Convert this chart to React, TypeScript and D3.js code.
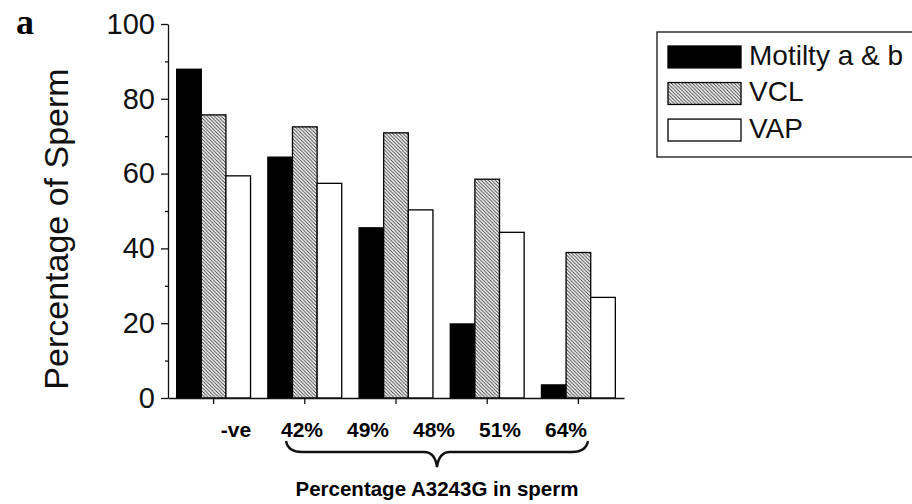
import { useEffect, useRef } from "react";
import * as d3 from "d3";

// bar groups (5 groups in the figure)
const groups = ["g1", "g2", "g3", "g4", "g5"];
const seriesNames = ["Motilty a & b", "VCL", "VAP"];
const motility = [87.9, 64.4, 45.5, 19.8, 3.5];
const vcl = [75.7, 72.5, 70.9, 58.5, 38.9];
const vap = [59.4, 57.4, 50.3, 44.3, 26.9];
// labels printed under the axis (as in the original figure)
const xLabels = ["-ve", "42%", "49%", "48%", "51%", "64%"];
const yTicks = [0, 20, 40, 60, 80, 100];
const yMinorTicks = [10, 30, 50, 70, 90];

const FONT = "'Liberation Sans', Arial, sans-serif";

export default function App() {
  const ref = useRef<SVGSVGElement>(null);

  useEffect(() => {
    const svg = d3.select(ref.current);
    svg.selectAll("*").remove();

    const left = 168;
    const right = 624;
    const top = 24;
    const bottom = 398;

    // hatch pattern
    const defs = svg.append("defs");
    const pat = defs
      .append("pattern")
      .attr("id", "hatch")
      .attr("patternUnits", "userSpaceOnUse")
      .attr("width", 3.5)
      .attr("height", 3.5);
    pat.append("rect").attr("width", 3.5).attr("height", 3.5).attr("fill", "#fff");
    pat
      .append("path")
      .attr("d", "M0,0 L3.5,3.5 M-1,2.5 L1,4.5 M2.5,-1 L4.5,1")
      .attr("stroke", "#333")
      .attr("stroke-width", 0.9);

    const fills = ["#000", "url(#hatch)", "#fff"];
    const values = [motility, vcl, vap];

    const x = d3
      .scaleBand()
      .domain(groups)
      .range([left, right])
      .paddingInner(0.19)
      .paddingOuter(0.095);

    const xs = d3
      .scaleBand()
      .domain(seriesNames)
      .range([0, x.bandwidth()]);

    const y = d3.scaleLinear().domain([0, 100]).range([bottom, top]);

    // bars
    seriesNames.forEach((s, si) => {
      svg
        .append("g")
        .selectAll("rect")
        .data(groups)
        .join("rect")
        .attr("x", (g) => x(g)! + xs(s)!)
        .attr("y", (g, i) => y(values[si][i]))
        .attr("width", xs.bandwidth())
        .attr("height", (g, i) => y(0) - y(values[si][i]))
        .attr("fill", fills[si])
        .attr("stroke", "#000")
        .attr("stroke-width", 1.3);
    });

    // y axis
    const yAxis = svg
      .append("g")
      .attr("transform", `translate(${left},0)`)
      .call(d3.axisLeft(y).tickValues(yTicks).tickSize(7).tickSizeOuter(0).tickPadding(6));
    yAxis.selectAll("text").attr("font-family", FONT).attr("font-size", 29).attr("fill", "#111");
    yAxis.selectAll("line, path").attr("stroke", "#111").attr("stroke-width", 1.3);

    const yMinor = svg
      .append("g")
      .attr("transform", `translate(${left},0)`)
      .call(d3.axisLeft(y).tickValues(yMinorTicks).tickSize(3).tickFormat(() => ""));
    yMinor.select("path").remove();
    yMinor.selectAll("line").attr("stroke", "#111").attr("stroke-width", 1.3);

    // x axis
    const xAxis = svg
      .append("g")
      .attr("transform", `translate(0,${bottom})`)
      .call(d3.axisBottom(x).tickSize(6).tickSizeOuter(0).tickFormat(() => ""));
    xAxis.selectAll("line, path").attr("stroke", "#111").attr("stroke-width", 1.3);

    // category labels under axis
    const xl = d3.scalePoint().domain(xLabels).range([236, 566]);
    svg
      .append("g")
      .selectAll("text")
      .data(xLabels)
      .join("text")
      .attr("x", (d) => xl(d)!)
      .attr("y", 437)
      .attr("text-anchor", "middle")
      .attr("font-family", FONT)
      .attr("font-weight", "bold")
      .attr("font-size", 21)
      .text((d) => d);

    // brace
    svg
      .append("path")
      .attr(
        "d",
        "M286,441 Q288,452 302,452 L424,452 Q435,452 437,467 Q439,452 450,452 L572,452 Q586,452 588,441"
      )
      .attr("fill", "none")
      .attr("stroke", "#111")
      .attr("stroke-width", 2.4);

    svg
      .append("text")
      .attr("x", 437)
      .attr("y", 496)
      .attr("text-anchor", "middle")
      .attr("font-family", FONT)
      .attr("font-weight", "bold")
      .attr("font-size", 20.5)
      .text("Percentage A3243G in sperm");

    // y label
    svg
      .append("text")
      .attr("transform", `translate(68,229) rotate(-90)`)
      .attr("text-anchor", "middle")
      .attr("font-family", FONT)
      .attr("font-size", 34)
      .attr("fill", "#111")
      .text("Percentage of Sperm");

    // panel letter
    svg
      .append("text")
      .attr("x", 16)
      .attr("y", 34)
      .attr("font-family", "'Liberation Serif', 'Times New Roman', serif")
      .attr("font-weight", "bold")
      .attr("font-size", 36)
      .text("a");

    // legend
    const leg = svg.append("g");
    leg
      .append("rect")
      .attr("x", 657)
      .attr("y", 32)
      .attr("width", 270)
      .attr("height", 125)
      .attr("fill", "#fff")
      .attr("stroke", "#111")
      .attr("stroke-width", 1.3);
    const ly = d3.scaleBand().domain(seriesNames).range([46, 141]).paddingInner(0.4);
    seriesNames.forEach((s, si) => {
      leg
        .append("rect")
        .attr("x", 668)
        .attr("y", ly(s)!)
        .attr("width", 73)
        .attr("height", ly.bandwidth())
        .attr("fill", fills[si])
        .attr("stroke", "#000")
        .attr("stroke-width", 1.3);
      leg
        .append("text")
        .attr("x", 749)
        .attr("y", ly(s)! + ly.bandwidth() - 3)
        .attr("font-family", FONT)
        .attr("font-size", 28)
        .attr("fill", "#111")
        .text(s);
    });
  }, []);

  return (
    <svg
      ref={ref}
      width={912}
      height={504}
      style={{ position: "absolute", left: 0, top: 0, background: "#fff" }}
    />
  );
}
